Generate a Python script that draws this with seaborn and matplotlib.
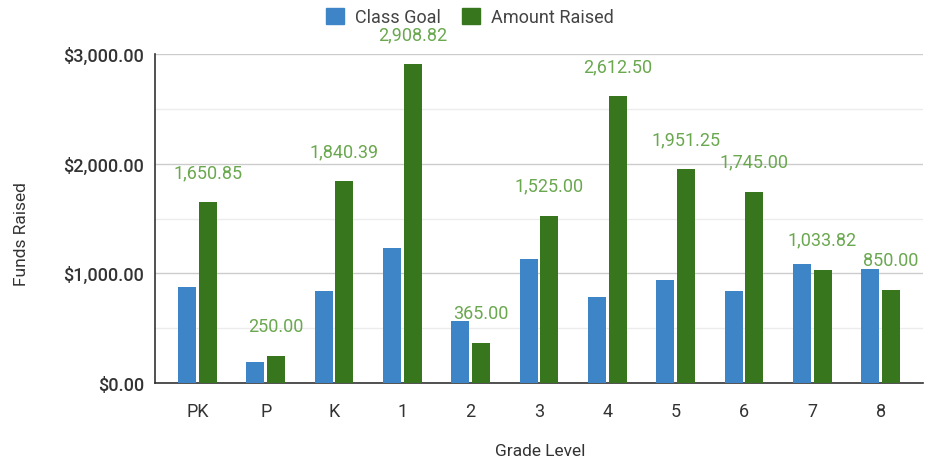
import matplotlib
matplotlib.use("Agg")
import matplotlib.pyplot as plt
import seaborn as sns
import pandas as pd
from matplotlib.ticker import MultipleLocator, FuncFormatter

grades = ["PK", "P", "K", "1", "2", "3", "4", "5", "6", "7", "8"]
class_goal = [879, 194, 836, 1230, 566, 1133, 782, 936, 836, 1088, 1036]
amount_raised = [1650.85, 250.00, 1840.39, 2908.82, 365.00, 1525.00, 2612.50,
                 1951.25, 1745.00, 1033.82, 850.00]
series_names = ["Class Goal", "Amount Raised"]
colors = ["#3d85c6", "#38761d"]
label_color = "#6aa84f"

sns.set_theme(style="white")
plt.rcParams['font.family'] = ['Roboto', 'DejaVu Sans']

df = pd.DataFrame({
    "Grade": grades * 2,
    "Value": class_goal + amount_raised,
    "Series": [series_names[0]] * len(grades) + [series_names[1]] * len(grades),
})

fig = plt.figure(figsize=(9.37, 4.64), dpi=100)
ax = fig.add_axes([155 / 937, (464 - 384) / 464, (923 - 155) / 937, (384 - 55) / 464])

sns.barplot(data=df, x="Grade", y="Value", hue="Series", order=grades,
            hue_order=series_names, palette=colors, saturation=1, width=0.6, gap=0.12,
            linewidth=0, ax=ax, legend=False, zorder=3)

ax.set_xlim(-0.62, len(grades) - 1 + 0.62)
ax.set_ylim(0, 3000)
ax.yaxis.set_major_locator(MultipleLocator(1000))
ax.yaxis.set_minor_locator(MultipleLocator(500))
ax.yaxis.set_major_formatter(FuncFormatter(lambda v, p: f"${v:,.2f}"))
ax.grid(axis="y", which="major", color="#cccccc", linewidth=1, zorder=0)
ax.grid(axis="y", which="minor", color="#ececec", linewidth=1, zorder=0)
ax.set_axisbelow(True)

for s in ["top", "right"]:
    ax.spines[s].set_visible(False)
ax.spines["left"].set_color("#333333")
ax.spines["bottom"].set_color("#333333")
ax.spines["left"].set_linewidth(1.2)
ax.spines["bottom"].set_linewidth(1.2)

ax.tick_params(axis="both", length=0, labelsize=13, colors="#333333")
ax.tick_params(axis="x", pad=14)
ax.tick_params(axis="y", pad=8)
for t in ax.get_yticklabels():
    t.set_fontweight("medium")

ax.set_xlabel("")
ax.set_ylabel("")
fig.text(540 / 937, 1 - 452 / 464, "Grade Level", ha="center", va="center",
         fontsize=12.5, color="#333333")
fig.text(22 / 937, 1 - 234 / 464, "Funds Raised", ha="center", va="center",
         rotation=90, fontsize=12.5, color="#333333")

# value labels above the Amount Raised bars
green_bars = ax.containers[1]
for bar, v in zip(green_bars, amount_raised):
    x = bar.get_x() + bar.get_width() / 2
    ax.annotate(f"{v:,.2f}", (x, bar.get_height()), xytext=(0, 21.6),
                textcoords="offset points", ha="center", va="center",
                fontsize=13, color=label_color, zorder=5, annotation_clip=False)

handles = [plt.Rectangle((0, 0), 1, 1, color=c) for c in colors]
fig.legend(handles, series_names, loc="center", bbox_to_anchor=(470 / 937, 1 - 18 / 464),
           ncol=2, frameon=False, fontsize=13, handlelength=1.0, handleheight=1.0,
           columnspacing=1.2, handletextpad=0.6, labelcolor="#444444")

fig.savefig("out.png", dpi=100)
